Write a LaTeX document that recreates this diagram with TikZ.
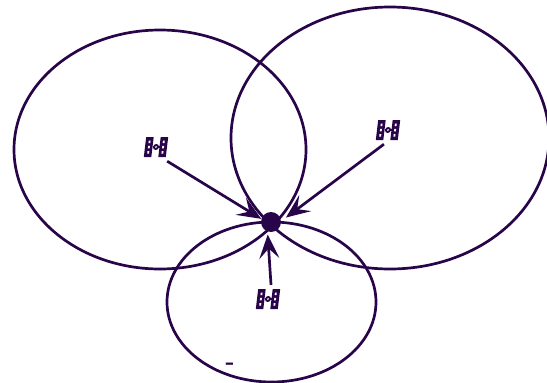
\documentclass[tikz,border=0pt]{standalone}
\usetikzlibrary{arrows.meta}
\definecolor{ink}{HTML}{280548}
\tikzset{
  orbit/.style={draw=ink,line width=2.7pt},
  link/.style={draw=ink,line width=2.7pt,-{Stealth[length=24pt,width=20pt,inset=10pt]}},
  sat/.style={minimum width=22pt,minimum height=28pt,inner sep=0pt},
  hub/.style={circle,fill=ink,minimum size=20pt,inner sep=0pt},
  window/.style={fill=white,draw=none},
}
\newcommand{\satglyph}[1]{%
  \begin{scope}[shift={(#1)},xslant=0.12]
    \fill[ink] (-11,-10) rectangle (-3.5,10);
    \fill[ink] (3.5,-10) rectangle (11,10);
    \draw[ink,line width=1.6pt] (-3.5,0) -- (3.5,0);
    \fill[ink] (0,0) circle (3pt);
    \fill[white] (0,0) circle (1pt);
    \foreach \yy in {-6.5,-1.2,4} {
      \fill[window] (-8,\yy) rectangle (-6.2,\yy+2.5);
      \fill[window] (6.2,\yy) rectangle (8,\yy+2.5);
    }
  \end{scope}}
\begin{document}
\begin{tikzpicture}[x=1pt,y=-1pt]
  \useasboundingbox (0,0) rectangle (547,383);
  \clip (0,0) rectangle (547,383);
  \draw[orbit] (160,149.5) ellipse [x radius=146,y radius=119.5];
  \draw[orbit] (390,138) ellipse [x radius=159,y radius=131];
  \draw[orbit] (271.5,302) ellipse [x radius=104.5,y radius=80];
  \node[hub] (dot) at (271,222) {};
  \node[sat] (s1) at (156,147) {};
  \node[sat] (s2) at (388,130) {};
  \node[sat] (s3) at (268,299) {};
  \satglyph{156,147}
  \satglyph{388,130}
  \satglyph{268,299}
  \draw[link] (s1.south east) -- (dot.162);
  \draw[link,shorten >=6pt] (s2.254) -- (dot.5);
  \draw[link,shorten >=3pt] (s3.78) -- (dot.250);
  \node[text=ink,font=\bfseries\fontsize{24}{24}\selectfont,inner sep=0pt] (dash) at (230,366.5) {-};
\end{tikzpicture}
\end{document}
